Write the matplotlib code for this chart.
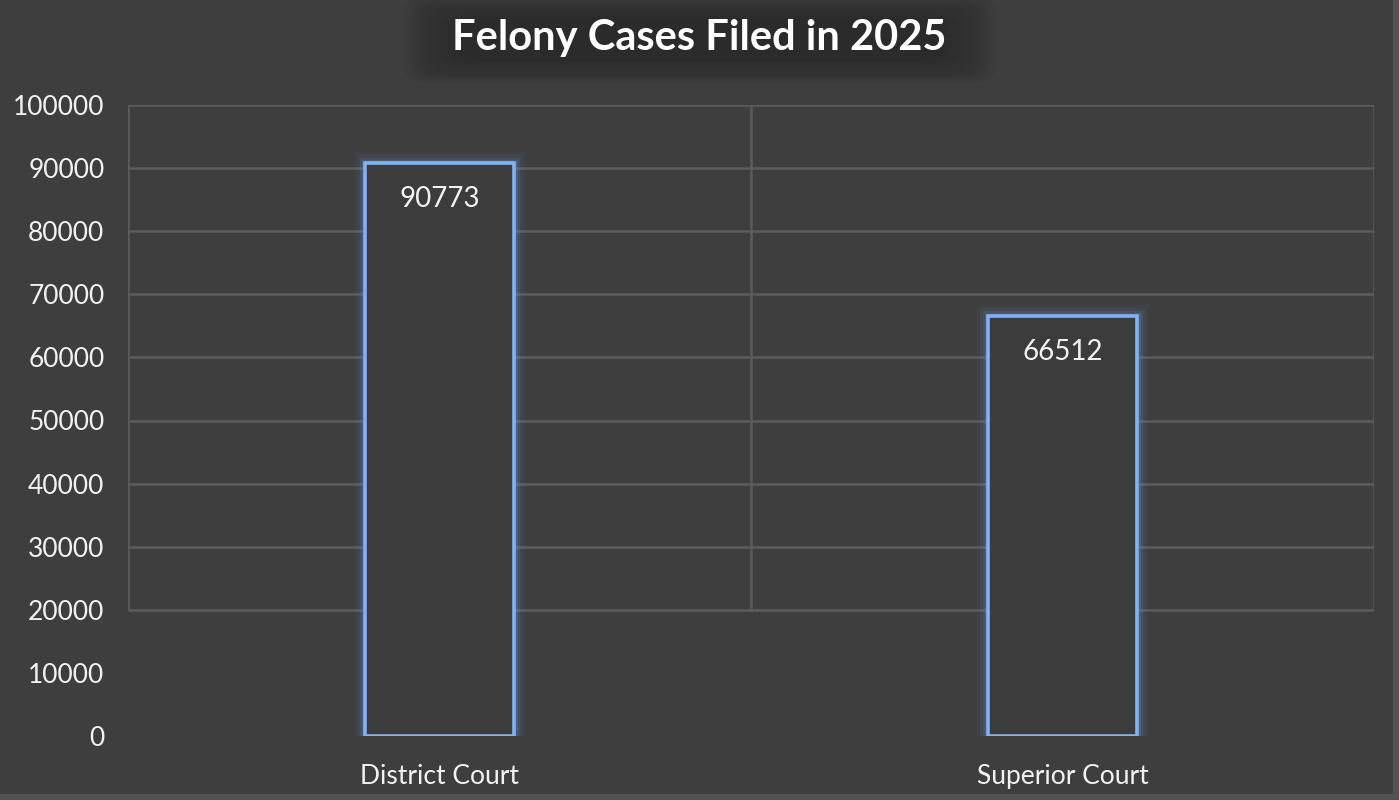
import matplotlib
matplotlib.use("Agg")
import matplotlib.pyplot as plt
from matplotlib.patches import Rectangle, FancyBboxPatch

categories = ["District Court", "Superior Court"]
values = [90773, 66512]
yticks = [0, 10000, 20000, 30000, 40000, 50000, 60000, 70000, 80000, 90000, 100000]
grid_levels = [20000, 30000, 40000, 50000, 60000, 70000, 80000, 90000, 100000]
title = "Felony Cases Filed in 2025"

plt.rcParams['font.family'] = ['Lato', 'DejaVu Sans']

BG = "#3e3e3e"
GRID = "#5c5c5c"
EDGE = "#82b1f5"
TXT = "#f2f2f2"

W, H = 1399, 800
fig = plt.figure(figsize=(13.99, 8.0), dpi=100, facecolor=BG)
# subtle lighter border on right/bottom
fig.patches.append(Rectangle((0, 0), 1, 0.008, transform=fig.transFigure, color="#525252", zorder=0))
fig.patches.append(Rectangle((0.9955, 0), 0.0045, 1, transform=fig.transFigure, color="#525252", zorder=0))

# soft dark shadow behind the title
for i in range(14):
    pad = 4 * i
    x0, x1 = 455 - pad, 945 + pad
    y0, y1 = 18 - pad * 0.45, 60 + pad * 0.45
    fig.patches.append(FancyBboxPatch((x0 / W, 1 - y1 / H), (x1 - x0) / W, (y1 - y0) / H,
                                      boxstyle="round,pad=0,rounding_size=0.02",
                                      transform=fig.transFigure, facecolor="#1e1e1e",
                                      edgecolor="none", alpha=0.045, zorder=0))

ax = fig.add_axes([128/W, 1-736/H, (1374-128)/W, (736-105)/H])
ax.set_facecolor(BG)
ax.patch.set_alpha(0)
for s in ax.spines.values():
    s.set_visible(False)

x = list(range(len(categories)))
ax.set_xlim(-0.5, len(categories) - 0.5)
ax.set_ylim(0, 100000)

# gridlines
ax.hlines(grid_levels, -0.5, len(categories) - 0.5, color=GRID, linewidth=1.8, zorder=1)
ax.vlines([-0.5, 0.5, 1.5], grid_levels[0], grid_levels[-1], color=GRID, linewidth=1.8, zorder=1)

# glow
for lw, a in [(16, 0.04), (12, 0.07), (8, 0.11), (5, 0.18)]:
    ax.bar(x, values, width=0.24, facecolor="none", edgecolor="#6f9fe8", linewidth=lw, alpha=a, zorder=2)
ax.bar(x, values, width=0.24, facecolor="#3c3c3c", edgecolor=EDGE, linewidth=2.6, zorder=3)

for xi, v in zip(x, values):
    ax.text(xi, v - 5600, str(v), ha="center", va="center", color=TXT, fontsize=20, zorder=4)

ax.set_yticks(yticks)
ax.set_yticklabels([str(t) for t in yticks], color=TXT, fontsize=19)
ax.set_xticks(x)
ax.set_xticklabels(categories, color=TXT, fontsize=19)
ax.tick_params(axis="both", length=0)
ax.tick_params(axis="y", pad=17)
ax.tick_params(axis="x", pad=20)

fig.text(0.5, 1 - 38/H, title, ha="center", va="center", color="white",
         fontsize=30, fontweight="bold")

fig.savefig("out.png", dpi=100, facecolor=BG)
